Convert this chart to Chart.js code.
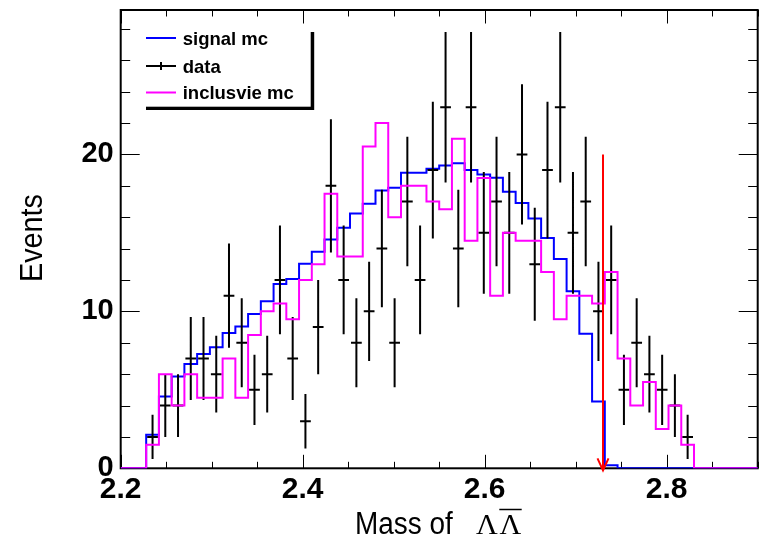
<!DOCTYPE html>
<html>
<head>
<meta charset="utf-8">
<title>Mass of ΛΛ̄</title>
<script src="https://cdn.jsdelivr.net/npm/chart.js@4.4.1/dist/chart.umd.min.js"></script>
<style>
  html, body { margin: 0; padding: 0; background: #fff; }
  #wrap { position: relative; width: 759px; height: 543px; }
</style>
</head>
<body>
<div id="wrap"><canvas id="chart"></canvas></div>
<script>
// ── Binning: 50 bins between 2.2 and 2.9 ────────────────────────────────
const X_MIN = 2.2, X_MAX = 2.9, N_BINS = 50;
const Y_MAX = 29.2;
const binEdges = Array.from({ length: N_BINS + 1 }, (_, i) => +(X_MIN + i * (X_MAX - X_MIN) / N_BINS).toFixed(4));

// ── Histograms (one value per bin) ───────────────────────────────────────
const signalMc = [
  0, 0, 2.13, 4.57, 5.85, 6.64, 7.28, 7.72, 8.62, 9.04,
  9.83, 10.64, 11.74, 12.06, 13.04, 13.79, 14.57, 15.32, 16.23, 16.85,
  17.70, 17.87, 18.83, 18.83, 19.09, 19.30, 19.43, 19.00, 18.72, 18.51,
  17.62, 16.91, 15.91, 14.68, 13.34, 11.28, 8.57, 4.26, 0.20, 0,
  0, 0, 0, 0, 0, 0, 0, 0, 0, 0,
];
const dataCounts = [
  0, 0, 2, 4, 4, 7, 7, 6, 11, 8,
  5, 6, 12, 7, 3, 9, 18, 12, 8, 10,
  14, 8, 17, 12, 19, 23, 14, 23, 15, 17,
  15, 20, 13, 19, 23, 15, 17, 10, 12, 5,
  8, 6, 5, 4, 2, 0, 0, 0, 0, 0,
];
const inclusiveMc = [
  0, 0, 1.5, 6, 4, 6, 4.5, 4.5, 7, 4.5,
  8.5, 10, 10.5, 9.5, 12, 13, 17.5, 13.5, 13.5, 20.5,
  22, 16, 18, 18, 17, 16.5, 21, 14.5, 18.5, 11,
  15, 14.5, 14.5, 12.5, 9.5, 11, 11, 10.5, 12.5, 7,
  4, 5.5, 2.5, 4, 1.5, 0, 0, 0, 0, 0,
];

// ── Axes, legend, cut ────────────────────────────────────────────────────
const xTickLabels = [2.2, 2.4, 2.6, 2.8];
const yTickLabels = [0, 10, 20];
const X_MINOR = 0.05, Y_MINOR = 2;
const legendLabels = ["signal mc", "data", "inclusvie mc"];
const legendColors = ["#0000ff", "#000000", "#ff00ff"];
const cutMass = 2.73, cutArrowTop = 20;

const FONT = "'Liberation Sans', Arial, Helvetica, sans-serif";

/** Histogram outline: one point per low edge, plus the last high edge. */
function stepPoints(values) {
  const pts = values.map((v, i) => ({ x: binEdges[i], y: v }));
  pts.push({ x: binEdges[N_BINS], y: values[N_BINS - 1] });
  return pts;
}

const dataPoints = [];
dataCounts.forEach((n, i) => {
  if (n > 0) dataPoints.push({ x: (binEdges[i] + binEdges[i + 1]) / 2, y: n, lo: binEdges[i], hi: binEdges[i + 1] });
});

// ── Frame + ROOT style inward ticks on all four sides ───────────────────
const framePlugin = {
  id: "frame",
  beforeDatasetsDraw(chart) {
    const { ctx, chartArea: a, scales: { x, y } } = chart;
    ctx.save();
    ctx.strokeStyle = "#000";
    ctx.lineWidth = 1;
    ctx.beginPath();
    for (let v = X_MIN; v <= X_MAX + 1e-9; v += X_MINOR) {
      const px = Math.round(x.getPixelForValue(v)) + 0.5;
      const major = xTickLabels.some(t => Math.abs(t - v) < 1e-6);
      const len = major ? 13.5 : 6.5;
      ctx.moveTo(px, a.bottom); ctx.lineTo(px, a.bottom - len);
      ctx.moveTo(px, a.top);    ctx.lineTo(px, a.top + len);
    }
    for (let v = 0; v <= Y_MAX; v += Y_MINOR) {
      const py = Math.round(y.getPixelForValue(v)) + 0.5;
      const major = yTickLabels.includes(v);
      const len = major ? 19 : 9.5;
      ctx.moveTo(a.left, py);  ctx.lineTo(a.left + len, py);
      ctx.moveTo(a.right, py); ctx.lineTo(a.right - len, py);
    }
    ctx.stroke();
    ctx.lineWidth = 2;
    ctx.strokeRect(a.left, a.top, a.right - a.left, a.bottom - a.top);
    ctx.restore();
  },
};

// ── Data error bars (x: bin width, y: sqrt N) ───────────────────────────
const errorBarPlugin = {
  id: "errorBars",
  afterDatasetDraw(chart, args) {
    if (args.index !== 1) return;
    const { ctx, scales: { x, y } } = chart;
    ctx.save();
    ctx.strokeStyle = "#000";
    ctx.lineWidth = 2;
    ctx.beginPath();
    dataPoints.forEach(p => {
      const err = Math.sqrt(p.y);
      const cx = x.getPixelForValue(p.x);
      const cy = y.getPixelForValue(p.y);
      ctx.moveTo(x.getPixelForValue(p.lo) + 1, cy); ctx.lineTo(x.getPixelForValue(p.hi) - 1, cy);
      ctx.moveTo(cx, y.getPixelForValue(p.y + err)); ctx.lineTo(cx, y.getPixelForValue(Math.max(0, p.y - err)));
    });
    ctx.stroke();
    ctx.restore();
  },
};

// ── Cut arrow, legend box and axis titles ───────────────────────────────
const decorPlugin = {
  id: "decor",
  afterDatasetsDraw(chart) {
    const { ctx, scales: { x, y } } = chart;
    const ax = x.getPixelForValue(cutMass);
    const yTop = y.getPixelForValue(cutArrowTop);
    const yTip = y.getPixelForValue(0) + 2;
    ctx.save();
    ctx.strokeStyle = "#ff0000";
    ctx.lineWidth = 2;
    ctx.beginPath();
    ctx.moveTo(ax, yTop); ctx.lineTo(ax, yTip);
    ctx.moveTo(ax - 5.5, yTip - 12); ctx.lineTo(ax, yTip); ctx.lineTo(ax + 5.5, yTip - 12);
    ctx.stroke();
    ctx.restore();
  },
  afterDraw(chart) {
    const { ctx } = chart;
    ctx.save();

    // legend with shadow on right / bottom
    ctx.fillStyle = "#fff";
    ctx.fillRect(146, 32, 166, 76);
    ctx.fillStyle = "#000";
    ctx.fillRect(310.7, 32, 3.5, 78);
    ctx.fillRect(146, 106.7, 168, 3.3);

    const baselines = [44.5, 72.5, 99];
    legendLabels.forEach((label, i) => {
      const ly = baselines[i] - 6.5;
      ctx.strokeStyle = legendColors[i];
      ctx.lineWidth = 2;
      ctx.beginPath();
      ctx.moveTo(146, ly); ctx.lineTo(176, ly);
      if (i === 1) { ctx.moveTo(161, ly - 4); ctx.lineTo(161, ly + 4); }
      ctx.stroke();
      ctx.fillStyle = "#000";
      ctx.font = `bold 18.5px ${FONT}`;
      ctx.textAlign = "left";
      ctx.textBaseline = "alphabetic";
      ctx.fillText(label, 182.7, baselines[i]);
    });

    // y title
    ctx.save();
    ctx.translate(41.7, 238);
    ctx.rotate(-Math.PI / 2);
    ctx.scale(0.9, 1);
    ctx.font = `32px ${FONT}`;
    ctx.textAlign = "center";
    ctx.textBaseline = "alphabetic";
    ctx.fillText("Events", 0, 0);
    ctx.restore();

    // x title: Mass of Λ Λ-bar
    ctx.save();
    ctx.translate(355, 534);
    ctx.scale(0.9, 1);
    ctx.font = `31px ${FONT}`;
    ctx.textAlign = "left";
    ctx.textBaseline = "alphabetic";
    ctx.fillText("Mass of", 0, 0);
    ctx.restore();
    ctx.font = `30px 'Liberation Serif', 'Times New Roman', serif`;
    ctx.textAlign = "left";
    ctx.fillText("Λ", 476, 534);
    ctx.fillText("Λ", 499.5, 534);
    ctx.strokeStyle = "#000";
    ctx.lineWidth = 1.5;
    ctx.beginPath();
    ctx.moveTo(499.3, 509.5); ctx.lineTo(521.7, 509.5);
    ctx.stroke();

    ctx.restore();
  },
};

new Chart(document.getElementById("chart"), {
  type: "line",
  data: {
    datasets: [
      {
        label: legendLabels[2],
        data: stepPoints(inclusiveMc),
        stepped: "before",
        borderColor: legendColors[2],
        borderWidth: 2,
        pointRadius: 0,
        fill: false,
        order: 1,
      },
      {
        type: "scatter",
        label: legendLabels[1],
        data: dataPoints,
        pointRadius: 0,
        showLine: false,
        order: 2,
      },
      {
        label: legendLabels[0],
        data: stepPoints(signalMc),
        stepped: "before",
        borderColor: legendColors[0],
        borderWidth: 2,
        pointRadius: 0,
        fill: false,
        order: 3,
      },
    ],
  },
  options: {
    responsive: true,
    maintainAspectRatio: false,
    animation: false,
    events: [],
    layout: { padding: { top: 10, right: 1.3, left: 0, bottom: 0 } },
    plugins: { legend: { display: false }, tooltip: { enabled: false } },
    scales: {
      x: {
        type: "linear",
        min: X_MIN,
        max: X_MAX,
        grid: { display: false, drawTicks: false },
        border: { display: false },
        ticks: {
          color: "#000",
          font: { family: FONT, size: 30, weight: "bold" },
          padding: 3,
          maxRotation: 0,
          autoSkip: false,
          callback: v => v.toFixed(1),
        },
        afterBuildTicks: s => { s.ticks = xTickLabels.map(v => ({ value: v })); },
        afterFit: s => { s.height = 543 - 468.3; s.paddingLeft = 0; s.paddingRight = 0; },
      },
      y: {
        type: "linear",
        min: 0,
        max: Y_MAX,
        grid: { display: false, drawTicks: false },
        border: { display: false },
        ticks: {
          color: "#000",
          font: { family: FONT, size: 29, weight: "bold" },
          padding: 7,
          callback: v => String(v),
        },
        afterBuildTicks: s => { s.ticks = yTickLabels.map(v => ({ value: v })); },
        afterFit: s => { s.width = 120.7; s.paddingTop = 0; s.paddingBottom = 0; },
      },
    },
  },
  plugins: [framePlugin, errorBarPlugin, decorPlugin],
});
</script>
</body>
</html>
